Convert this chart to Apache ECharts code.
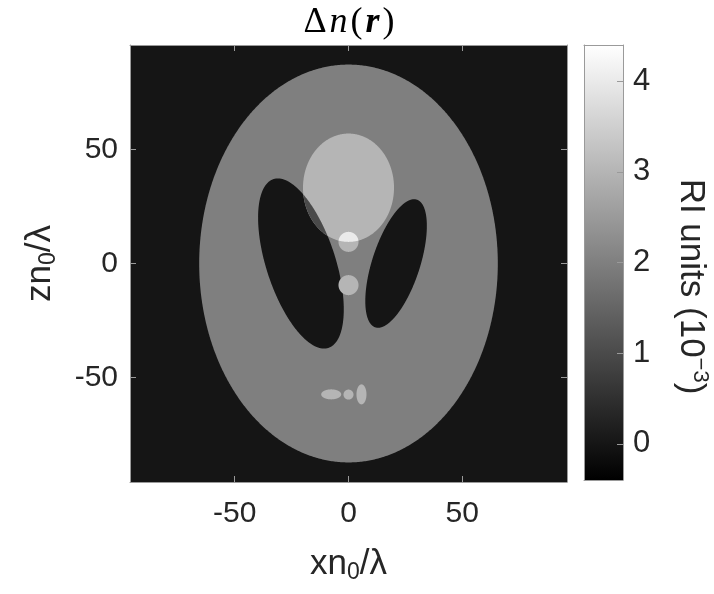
<!DOCTYPE html>
<html>
<head>
<meta charset="utf-8">
<script src="https://cdn.jsdelivr.net/npm/echarts@6/dist/echarts.min.js"></script>
<style>
  html, body { margin: 0; padding: 0; background: #ffffff; }
  #chart { width: 714px; height: 594px; }
</style>
</head>
<body>
<div id="chart"></div>
<script>
// Phantom built from ellipses; each ellipse adds its offset (RI units, 1e-3) where it covers.
const ellipseCenterX = [0, -20.9, 20.9, 0, 0, 0, -7.6, 0, 5.7];
const ellipseCenterZ = [0, 0, 0, 33.3, 9.5, -9.5, -57.5, -57.6, -57.5];
const ellipseRadiusX = [65.6, 15.2, 10.5, 20.0, 4.4, 4.4, 4.4, 2.2, 2.2];
const ellipseRadiusZ = [87.4, 39.0, 29.5, 23.8, 4.4, 4.4, 2.2, 2.2, 4.4];
const ellipseTiltDeg = [0, 18, -18, 0, 0, 0, 0, 0, 0];
const ellipseDelta   = [2, -2, -2, 1, 1, 1, 1, 1, 1];

// Overlap regions, painted in this order (each is the intersection of its member ellipses).
const regionMembers = [
  [0], [0, 1], [0, 2], [0, 3], [0, 3, 1], [0, 3, 2],
  [0, 4], [0, 3, 4], [0, 5], [0, 6], [0, 7], [0, 8]
];

const fieldExtent = [-96, 96];
const backgroundValue = 0;
const axisTicks = [-50, 0, 50];
const colorRange = [-0.4, 4.4];
const colorTicks = [0, 1, 2, 3, 4];

const SAMPLES = 720;

function ellipseOutline(i) {
  const th = ellipseTiltDeg[i] * Math.PI / 180;
  const c = Math.cos(th), s = Math.sin(th);
  const pts = [];
  for (let k = 0; k < SAMPLES; k++) {
    const t = 2 * Math.PI * k / SAMPLES;
    const u = ellipseRadiusX[i] * Math.cos(t);
    const v = ellipseRadiusZ[i] * Math.sin(t);
    pts.push([ellipseCenterX[i] + c * u - s * v, ellipseCenterZ[i] + s * u + c * v]);
  }
  return pts;
}

function insideEllipse(i, p) {
  const th = ellipseTiltDeg[i] * Math.PI / 180;
  const c = Math.cos(th), s = Math.sin(th);
  const dx = p[0] - ellipseCenterX[i], dz = p[1] - ellipseCenterZ[i];
  const u = c * dx + s * dz, v = -s * dx + c * dz;
  return (u * u) / (ellipseRadiusX[i] ** 2) + (v * v) / (ellipseRadiusZ[i] ** 2) <= 1 + 1e-9;
}

// Outline of the (convex) intersection of several ellipses.
function intersectionOutline(members) {
  let pts = [];
  members.forEach(function (i) {
    ellipseOutline(i).forEach(function (p) {
      if (members.every(function (j) { return j === i || insideEllipse(j, p); })) pts.push(p);
    });
  });
  if (pts.length < 3) return [];
  let mx = 0, mz = 0;
  pts.forEach(function (p) { mx += p[0]; mz += p[1]; });
  mx /= pts.length; mz /= pts.length;
  pts.sort(function (a, b) {
    return Math.atan2(a[1] - mz, a[0] - mx) - Math.atan2(b[1] - mz, b[0] - mx);
  });
  return pts;
}

const regionData = regionMembers.map(function (m, k) {
  let v = backgroundValue;
  m.forEach(function (i) { v += ellipseDelta[i]; });
  return [k, v];
});

const axisColor = '#9a9a9a';
const textColor = '#262626';
const sans = 'Liberation Sans';
const nameSize = 35;

function frameAxis(extra) {
  return Object.assign({
    type: 'value', z: 5,
    axisLine: { show: true, onZero: false, lineStyle: { color: axisColor, width: 1 } },
    axisTick: { show: false },
    axisLabel: { show: false },
    splitLine: { show: false }
  }, extra);
}

const chart = echarts.init(document.getElementById('chart'), null, { renderer: 'canvas' });

const serifRich = {
  a: { fontFamily: 'Liberation Serif', fontSize: 36, fontWeight: 'normal', color: '#000000', padding: [0, 1] },
  i: { fontFamily: 'Liberation Serif', fontSize: 36, fontWeight: 'normal', fontStyle: 'italic', color: '#000000', padding: [0, 2] },
  b: { fontFamily: 'Liberation Serif', fontSize: 36, fontStyle: 'italic', fontWeight: 'bold', color: '#000000', padding: [0, 2] }
};

chart.setOption({
  animation: false,
  backgroundColor: '#ffffff',
  title: {
    text: '{a|Δ}{i|n}{a|(}{b|r}{a|)}',
    left: 344,
    textAlign: 'center',
    top: 0,
    textStyle: { fontWeight: 'normal', rich: serifRich }
  },
  grid: [
    { left: 130, top: 45, width: 437, height: 437 },
    { left: 584, top: 45, width: 39, height: 435 }
  ],
  visualMap: {
    type: 'continuous',
    show: false,
    seriesIndex: [0, 1],
    dimension: 2,
    min: colorRange[0],
    max: colorRange[1],
    inRange: { color: ['#000000', '#ffffff'] }
  },
  xAxis: [
    frameAxis({
      gridIndex: 0, min: fieldExtent[0], max: fieldExtent[1], position: 'bottom',
      name: '{t|xn}{s|0}{t|/λ}', nameLocation: 'middle', nameGap: 62,
      nameTextStyle: {
        rich: {
          t: { fontFamily: sans, fontSize: nameSize, color: textColor, lineHeight: 40 },
          s: { fontFamily: sans, fontSize: 23, color: textColor, lineHeight: 40, verticalAlign: 'bottom', padding: [16, 0, 0, 0] }
        }
      },
      axisTick: { show: true, inside: true, length: 6, customValues: axisTicks, lineStyle: { color: axisColor } },
      axisLabel: { show: true, customValues: axisTicks, margin: 17, fontFamily: sans, fontSize: 30, color: textColor }
    }),
    frameAxis({
      gridIndex: 0, min: fieldExtent[0], max: fieldExtent[1], position: 'top',
      axisTick: { show: true, inside: true, length: 6, customValues: axisTicks, lineStyle: { color: axisColor } }
    }),
    frameAxis({ gridIndex: 1, min: 0, max: 1, position: 'bottom' }),
    frameAxis({ gridIndex: 1, min: 0, max: 1, position: 'top' })
  ],
  yAxis: [
    frameAxis({
      gridIndex: 0, min: fieldExtent[0], max: fieldExtent[1], position: 'left',
      name: '{t|zn}{s|0}{t|/λ}', nameLocation: 'middle', nameGap: 70, nameRotate: 90,
      nameTextStyle: {
        rich: {
          t: { fontFamily: sans, fontSize: nameSize, color: textColor, lineHeight: 40 },
          s: { fontFamily: sans, fontSize: 23, color: textColor, lineHeight: 40, verticalAlign: 'bottom', padding: [16, 0, 0, 0] }
        }
      },
      axisTick: { show: true, inside: true, length: 6, customValues: axisTicks, lineStyle: { color: axisColor } },
      axisLabel: { show: true, customValues: axisTicks, margin: 12, fontFamily: sans, fontSize: 30, color: textColor }
    }),
    frameAxis({
      gridIndex: 0, min: fieldExtent[0], max: fieldExtent[1], position: 'right',
      axisTick: { show: true, inside: true, length: 6, customValues: axisTicks, lineStyle: { color: axisColor } }
    }),
    frameAxis({
      gridIndex: 1, min: colorRange[0], max: colorRange[1], position: 'right',
      name: '{t|RI units (10}{p|−3}{t|)}', nameLocation: 'middle', nameGap: 48, nameRotate: -90,
      nameTextStyle: {
        padding: [0, 0, 0, 48],
        rich: {
          t: { fontFamily: sans, fontSize: nameSize, color: textColor, lineHeight: 40 },
          p: { fontFamily: sans, fontSize: 22, color: textColor, lineHeight: 40, verticalAlign: 'top', padding: [0, 0, 16, 0] }
        }
      },
      axisTick: { show: true, inside: true, length: 6, customValues: colorTicks, lineStyle: { color: axisColor } },
      axisLabel: { show: true, customValues: colorTicks, margin: 10, fontFamily: sans, fontSize: 31, color: textColor }
    }),
    frameAxis({ gridIndex: 1, min: colorRange[0], max: colorRange[1], position: 'left' })
  ],
  series: [
    {
      // background field
      type: 'custom',
      xAxisIndex: 0, yAxisIndex: 0,
      clip: true,
      data: [[fieldExtent[0], fieldExtent[1], backgroundValue]],
      encode: { x: 0, y: 1 },
      renderItem: function (params, api) {
        const p0 = api.coord([api.value(0), api.value(0)]);
        const p1 = api.coord([api.value(1), api.value(1)]);
        return {
          type: 'rect',
          shape: { x: p0[0], y: p1[1], width: p1[0] - p0[0], height: p0[1] - p1[1] },
          style: { fill: api.visual('color') }
        };
      }
    },
    {
      // ellipse regions
      type: 'custom',
      xAxisIndex: 0, yAxisIndex: 0,
      clip: true,
      data: regionData.map(function (d) { return [d[0], 0, d[1]]; }),
      encode: { x: 1, y: 1 },
      renderItem: function (params, api) {
        const members = regionMembers[api.value(0)];
        const pts = intersectionOutline(members).map(function (p) { return api.coord(p); });
        return {
          type: 'polygon',
          shape: { points: pts },
          style: { fill: api.visual('color'), stroke: null }
        };
      }
    },
    {
      // colour bar
      type: 'custom',
      xAxisIndex: 2, yAxisIndex: 2,
      data: [[colorRange[0], colorRange[1]]],
      encode: { y: [0, 1] },
      renderItem: function (params, api) {
        const lo = api.coord([0, api.value(0)]);
        const hi = api.coord([1, api.value(1)]);
        return {
          type: 'rect',
          shape: { x: lo[0], y: hi[1], width: hi[0] - lo[0], height: lo[1] - hi[1] },
          style: {
            fill: new echarts.graphic.LinearGradient(0, 0, 0, 1, [
              { offset: 0, color: '#ffffff' },
              { offset: 1, color: '#000000' }
            ])
          }
        };
      }
    }
  ]
});
</script>
</body>
</html>
